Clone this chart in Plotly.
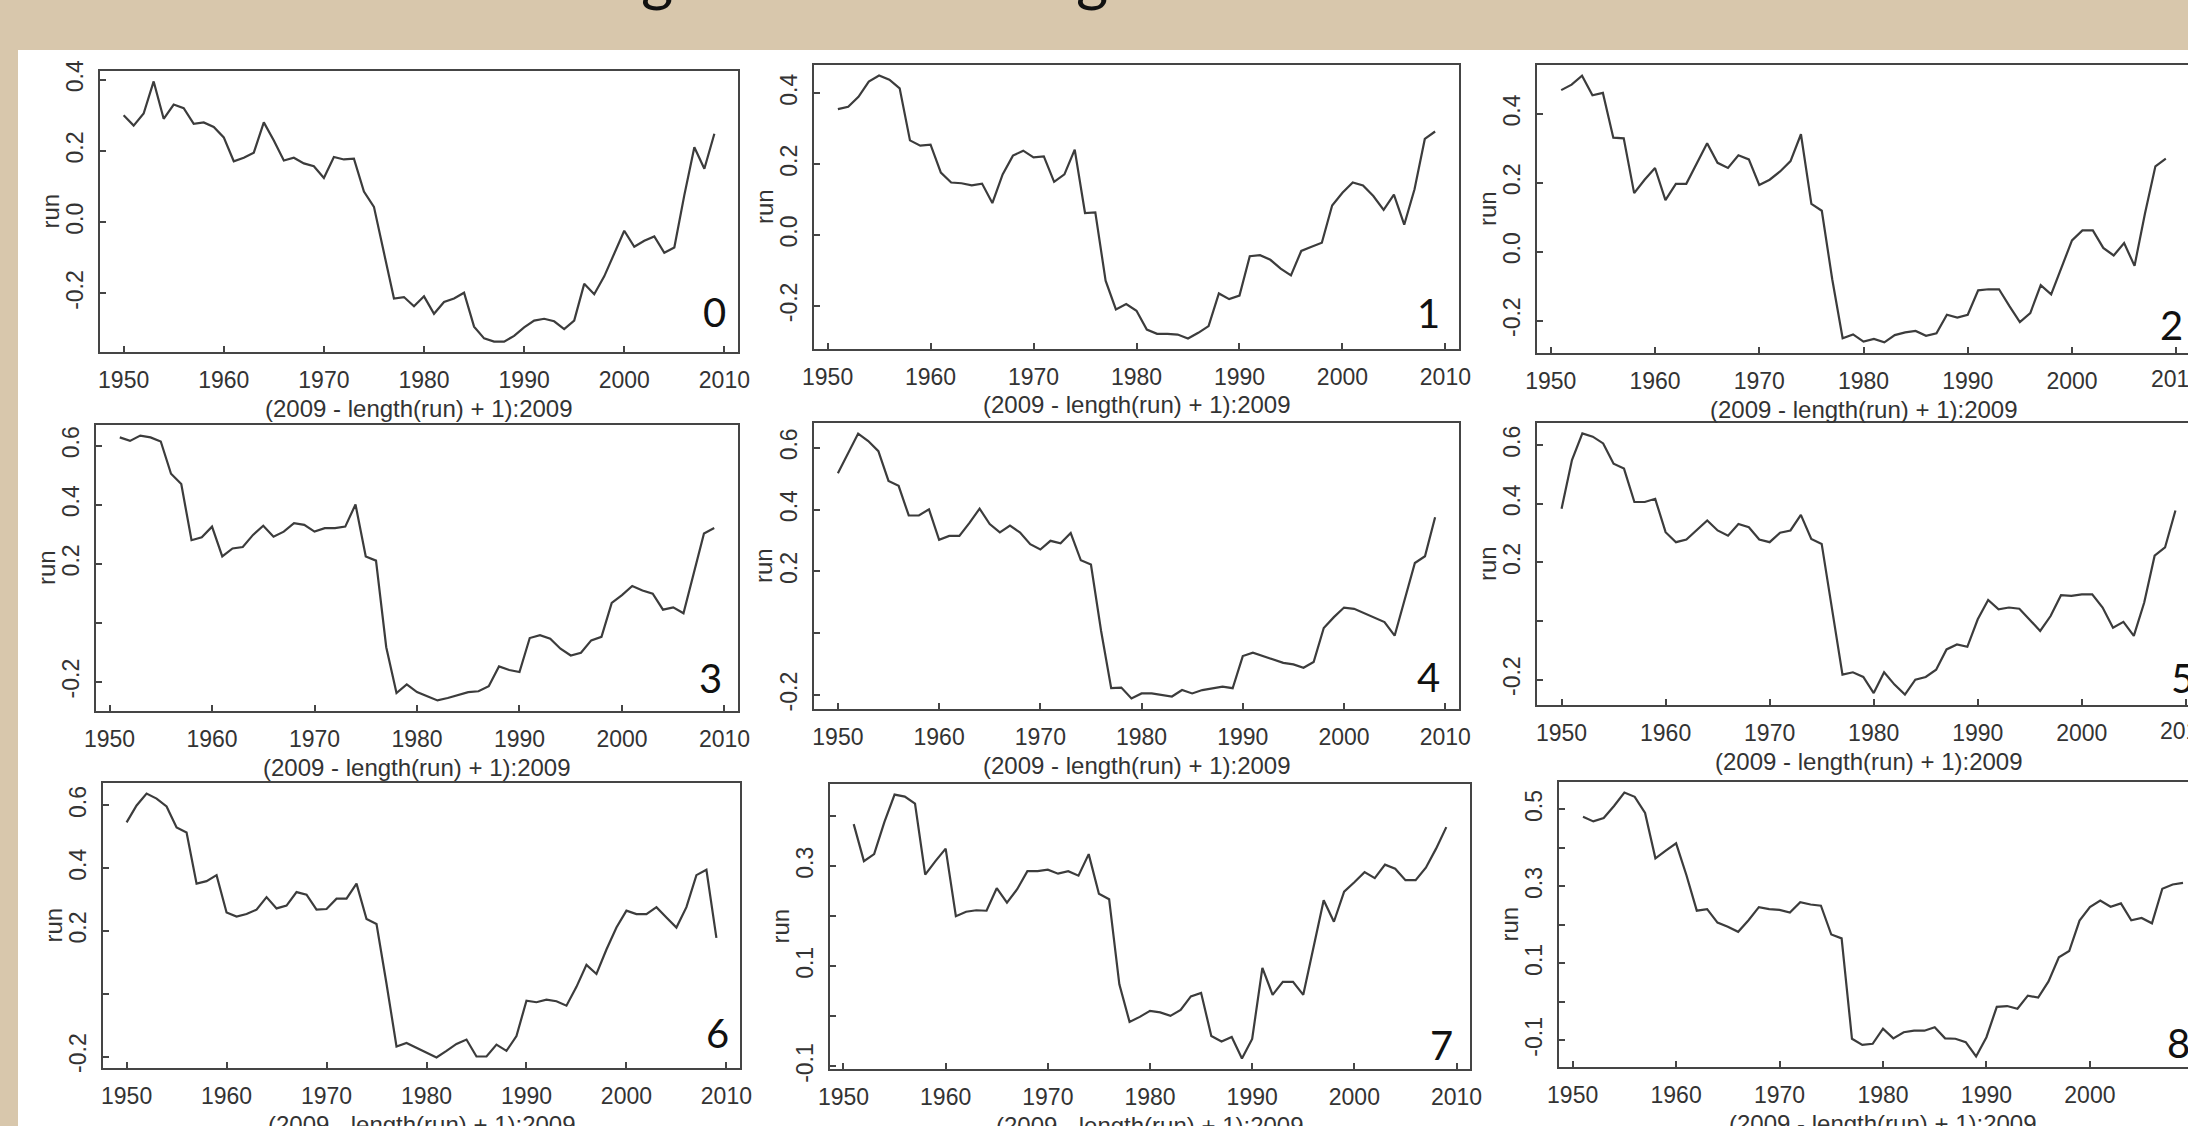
import plotly.graph_objects as go

W, H = 2188, 1126

# ---------------- data ----------------
START_YEARS = [1950, 1951, 1951, 1951, 1950, 1950, 1950, 1951, 1951]
END_YEAR = 2009

RUN_0 = [0.30, 0.271, 0.305, 0.395, 0.29, 0.33, 0.32, 0.276, 0.28, 0.267,
         0.238, 0.171, 0.181, 0.195, 0.28, 0.229, 0.173, 0.181, 0.165, 0.157,
         0.124, 0.183, 0.176, 0.178, 0.086, 0.043, -0.086, -0.214, -0.21, -0.236,
         -0.208, -0.257, -0.224, -0.214, -0.198, -0.293, -0.326, -0.335, -0.335, -0.319,
         -0.295, -0.276, -0.271, -0.278, -0.30, -0.276, -0.173, -0.202, -0.152, -0.086,
         -0.024, -0.069, -0.052, -0.04, -0.086, -0.071, 0.076, 0.21, 0.15, 0.248]
RUN_1 = [0.355, 0.362, 0.39, 0.433, 0.45, 0.438, 0.414, 0.267, 0.252,
         0.255, 0.176, 0.148, 0.146, 0.14, 0.145, 0.09, 0.171, 0.224, 0.238,
         0.219, 0.222, 0.15, 0.171, 0.241, 0.062, 0.064, -0.129, -0.21, -0.195,
         -0.214, -0.267, -0.279, -0.279, -0.281, -0.292, -0.276, -0.257, -0.165, -0.181,
         -0.171, -0.06, -0.057, -0.07, -0.095, -0.114, -0.045, -0.033, -0.022, 0.083,
         0.119, 0.148, 0.14, 0.11, 0.071, 0.114, 0.029, 0.129, 0.271, 0.292]
RUN_2 = [0.469, 0.485, 0.511, 0.454, 0.461, 0.331, 0.329, 0.17, 0.209,
         0.243, 0.15, 0.197, 0.197, 0.258, 0.315, 0.258, 0.243, 0.28, 0.268,
         0.194, 0.209, 0.233, 0.263, 0.341, 0.139, 0.119, -0.08, -0.251, -0.24,
         -0.261, -0.253, -0.263, -0.242, -0.234, -0.23, -0.244, -0.237, -0.183, -0.191,
         -0.183, -0.112, -0.109, -0.109, -0.158, -0.204, -0.178, -0.097, -0.124, -0.046,
         0.033, 0.062, 0.062, 0.011, -0.011, 0.025, -0.041, 0.111, 0.248, 0.27]
RUN_3 = [0.628, 0.616, 0.634, 0.628, 0.614, 0.505, 0.47, 0.28, 0.29,
         0.326, 0.225, 0.252, 0.257, 0.298, 0.329, 0.292, 0.309, 0.338, 0.332,
         0.309, 0.321, 0.321, 0.326, 0.401, 0.225, 0.211, -0.082, -0.237, -0.208,
         -0.234, -0.248, -0.262, -0.254, -0.243, -0.234, -0.231, -0.214, -0.147, -0.159,
         -0.166, -0.051, -0.041, -0.053, -0.087, -0.11, -0.101, -0.059, -0.047, 0.068,
         0.094, 0.125, 0.11, 0.099, 0.045, 0.053, 0.033, 0.168, 0.303, 0.321]
RUN_4 = [0.518, 0.584, 0.646, 0.622, 0.589, 0.493, 0.477, 0.381, 0.381, 0.401,
         0.302, 0.315, 0.315, 0.357, 0.403, 0.353, 0.326, 0.348, 0.326, 0.288,
         0.271, 0.299, 0.291, 0.324, 0.236, 0.222, 0.008, -0.178, -0.176, -0.211,
         -0.195, -0.195, -0.2, -0.205, -0.184, -0.195, -0.184, -0.178, -0.173, -0.178,
         -0.074, -0.063, -0.074, -0.085, -0.096, -0.101, -0.112, -0.093, 0.017, 0.052,
         0.083, 0.079, 0.065, 0.052, 0.036, -0.008, 0.107, 0.227, 0.249, 0.375]
RUN_5 = [0.383, 0.549, 0.64, 0.629, 0.606, 0.537, 0.52, 0.406, 0.406, 0.417,
         0.303, 0.269, 0.278, 0.309, 0.343, 0.309, 0.291, 0.331, 0.32, 0.278,
         0.269, 0.301, 0.309, 0.362, 0.28, 0.263, 0.046, -0.183, -0.175, -0.191,
         -0.246, -0.175, -0.217, -0.251, -0.2, -0.191, -0.166, -0.097, -0.08, -0.088,
         0.006, 0.072, 0.04, 0.046, 0.042, 0.003, -0.034, 0.017, 0.088, 0.086,
         0.091, 0.091, 0.046, -0.023, -0.003, -0.051, 0.063, 0.223, 0.251, 0.377]
RUN_6 = [0.546, 0.6, 0.638, 0.622, 0.597, 0.53, 0.514, 0.351, 0.359, 0.378,
         0.259, 0.246, 0.254, 0.268, 0.308, 0.272, 0.281, 0.324, 0.316, 0.268,
         0.27, 0.303, 0.303, 0.351, 0.238, 0.222, 0.032, -0.168, -0.157, -0.173,
         -0.189, -0.203, -0.182, -0.16, -0.146, -0.2, -0.2, -0.162, -0.182, -0.135,
         -0.022, -0.027, -0.019, -0.024, -0.038, 0.022, 0.092, 0.063, 0.141, 0.211,
         0.265, 0.254, 0.254, 0.276, 0.243, 0.211, 0.276, 0.378, 0.395, 0.178]
RUN_7 = [0.384, 0.31, 0.324, 0.388, 0.443, 0.439, 0.425, 0.283, 0.31,
         0.335, 0.2, 0.209, 0.212, 0.211, 0.256, 0.227, 0.254, 0.29, 0.29,
         0.293, 0.285, 0.29, 0.281, 0.324, 0.245, 0.234, 0.064, -0.011, -0.001,
         0.011, 0.008, 0.001, 0.013, 0.04, 0.047, -0.039, -0.05, -0.041, -0.084,
         -0.045, 0.097, 0.043, 0.069, 0.069, 0.043, 0.141, 0.232, 0.189, 0.249,
         0.268, 0.288, 0.276, 0.303, 0.295, 0.272, 0.272, 0.297, 0.335, 0.378]
RUN_8 = [0.481, 0.469, 0.478, 0.509, 0.544, 0.533, 0.491, 0.373, 0.393,
         0.412, 0.329, 0.237, 0.241, 0.206, 0.195, 0.182, 0.212, 0.246, 0.241,
         0.239, 0.232, 0.259, 0.253, 0.25, 0.175, 0.165, -0.096, -0.112, -0.109,
         -0.07, -0.095, -0.079, -0.075, -0.075, -0.066, -0.095, -0.096, -0.105, -0.142,
         -0.092, -0.013, -0.011, -0.018, 0.016, 0.011, 0.053, 0.116, 0.132, 0.211,
         0.246, 0.263, 0.247, 0.256, 0.212, 0.218, 0.204, 0.294, 0.305, 0.309]

RUNS = [RUN_0, RUN_1, RUN_2, RUN_3, RUN_4, RUN_5, RUN_6, RUN_7, RUN_8]
PANEL_LABELS = ["0", "1", "2", "3", "4", "5", "6", "7", "8"]

X_TICKS = [1950, 1960, 1970, 1980, 1990, 2000, 2010]
X_TICK_LABELS = ["1950", "1960", "1970", "1980", "1990", "2000", "2010"]

Y_TICKS_A = [-0.2, 0.0, 0.2, 0.4]
Y_LABELS_A = ["-0.2", "0.0", "0.2", "0.4"]
Y_TICKS_B = [-0.2, 0.0, 0.2, 0.4, 0.6]
Y_LABELS_B = ["-0.2", "", "0.2", "0.4", "0.6"]
Y_TICKS_C = [-0.1, 0.0, 0.1, 0.2, 0.3, 0.4]
Y_LABELS_C = ["-0.1", "", "0.1", "", "0.3", ""]
Y_TICKS_D = [-0.1, 0.0, 0.1, 0.2, 0.3, 0.4, 0.5]
Y_LABELS_D = ["-0.1", "", "0.1", "", "0.3", "", "0.5"]

Y_TICKS = [Y_TICKS_A, Y_TICKS_A, Y_TICKS_A, Y_TICKS_B, Y_TICKS_B, Y_TICKS_B,
           Y_TICKS_B, Y_TICKS_C, Y_TICKS_D]
Y_LABELS = [Y_LABELS_A, Y_LABELS_A, Y_LABELS_A, Y_LABELS_B, Y_LABELS_B, Y_LABELS_B,
            Y_LABELS_B, Y_LABELS_C, Y_LABELS_D]

X_TITLE = "(2009 - length(run) + 1):2009"
Y_TITLE = "run"
TITLE_FRAGMENTS = ["g", "g"]

# ---------------- layout (pixels) ----------------
# left, right, top, bottom, virtual right (frame edge beyond the window)
FRAMES = [
    (100, 738, 71, 352, None),
    (814, 1459, 65, 349, None),
    (1537, 2188, 65, 353, 2190),
    (96, 738, 425, 711, None),
    (814, 1459, 423, 709, None),
    (1537, 2188, 423, 705, 2200),
    (103, 740, 783, 1068, None),
    (830, 1470, 784, 1069, None),
    (1559, 2188, 782, 1067, 2207),
]
LABEL_POS = [(714, 312), (1428, 313), (2171, 325),
             (710, 678), (1428, 677), (2182, 678),
             (717, 1033), (1441, 1045), (2178, 1043)]
TITLE_FRAG_X = [657, 1092]

BG = "#d8c7ac"
LINE = "#3c3c3c"
FRAME = "#454545"
TXT = "#333333"
RFONT = "Liberation Sans, Arial, sans-serif"
TICK_FONT = dict(family=RFONT, size=23, color=TXT)


def px_x(p):
    return p / W


def px_y(p):
    return 1 - p / H


fig = go.Figure()

annotations = []
shapes = [dict(type="rect", xref="paper", yref="paper",
               x0=px_x(18), x1=1.01, y0=-0.01, y1=px_y(50),
               fillcolor="white", line=dict(width=0), layer="below")]

for i, run in enumerate(RUNS):
    n = i + 1
    xa = "x" if n == 1 else f"x{n}"
    ya = "y" if n == 1 else f"y{n}"
    years = list(range(START_YEARS[i], END_YEAR + 1))
    fig.add_trace(go.Scatter(x=years, y=run, mode="lines",
                             line=dict(color=LINE, width=2.2),
                             xaxis=xa, yaxis=ya, showlegend=False,
                             hoverinfo="skip"))

    L, R, T, B, RV = FRAMES[i]
    span = END_YEAR - START_YEARS[i]
    x0r = START_YEARS[i] - 0.04 * span
    x1r = END_YEAR + 0.04 * span
    cropped = RV is not None
    if cropped:
        x1r = x0r + (R - L) / (RV - L) * (x1r - x0r)
    ymin, ymax = min(run), max(run)
    yspan = ymax - ymin
    y0r, y1r = ymin - 0.04 * yspan, ymax + 0.04 * yspan

    xtext = list(X_TICK_LABELS)
    if cropped:
        # last label hangs over the window edge: draw it as an annotation
        xtext[-1] = ""
        annotations.append(dict(text=X_TICK_LABELS[-1], xref=xa, yref="paper",
                                x=X_TICKS[-1], y=px_y(B + 26), showarrow=False,
                                xanchor="center", yanchor="middle",
                                font=TICK_FONT))

    xkey = "xaxis" if n == 1 else f"xaxis{n}"
    ykey = "yaxis" if n == 1 else f"yaxis{n}"
    fig.layout[xkey] = dict(
        domain=[px_x(L), min(1, px_x(R))], range=[x0r, x1r], anchor=ya,
        tickvals=X_TICKS, ticktext=xtext, ticks="inside", ticklen=6,
        tickwidth=1.5, tickcolor=FRAME, showline=True, mirror=True,
        linecolor=FRAME, linewidth=2, showgrid=False, zeroline=False,
        tickfont=TICK_FONT, ticklabelstandoff=6,
        automargin=False, fixedrange=True)
    fig.layout[ykey] = dict(
        domain=[px_y(B), px_y(T)], range=[y0r, y1r], anchor=xa,
        tickvals=Y_TICKS[i], ticktext=Y_LABELS[i], ticks="inside", ticklen=6,
        tickwidth=1.5, tickcolor=FRAME, showline=True,
        mirror=(not cropped), linecolor=FRAME, linewidth=2, showgrid=False,
        zeroline=False, tickangle=-90,
        tickfont=TICK_FONT, ticklabelstandoff=6,
        automargin=False, fixedrange=True)

    annotations.append(dict(text=X_TITLE, xref="paper", yref="paper",
                            x=px_x((L + (RV if cropped else R)) / 2), y=px_y(B + 56),
                            showarrow=False, xanchor="center", yanchor="middle",
                            font=dict(family=RFONT, size=24, color=TXT)))
    annotations.append(dict(text=Y_TITLE, xref="paper", yref="paper",
                            x=px_x(L - 50), y=px_y((T + B) / 2), textangle=-90,
                            showarrow=False, xanchor="center", yanchor="middle",
                            font=dict(family=RFONT, size=24, color=TXT)))
    lx, ly = LABEL_POS[i]
    annotations.append(dict(text=PANEL_LABELS[i], xref="paper", yref="paper",
                            x=px_x(lx), y=px_y(ly), showarrow=False,
                            xanchor="center", yanchor="middle",
                            font=dict(family="Lato, Open Sans, sans-serif",
                                      size=40, color="#111111")))

for t, gx in zip(TITLE_FRAGMENTS, TITLE_FRAG_X):
    annotations.append(dict(text=t, xref="paper", yref="paper", x=px_x(gx), y=1,
                            yanchor="bottom", xanchor="center", yshift=-14,
                            showarrow=False,
                            font=dict(family="Lato, Open Sans, sans-serif",
                                      size=62, color="#111111")))

fig.update_layout(width=W, height=H, autosize=False,
                  margin=dict(l=0, r=0, t=0, b=0, pad=0, autoexpand=False),
                  paper_bgcolor=BG, plot_bgcolor="white",
                  annotations=annotations, shapes=shapes, showlegend=False)

post = ("document.documentElement.style.margin='0';"
        "document.documentElement.style.padding='0';"
        "document.documentElement.style.overflow='hidden';"
        "document.body.style.margin='0';document.body.style.padding='0';"
        "document.body.style.overflow='hidden';"
        "document.body.style.background='" + BG + "';")

fig.write_html("out.html", config={"displayModeBar": False, "responsive": False},
               post_script=post)
